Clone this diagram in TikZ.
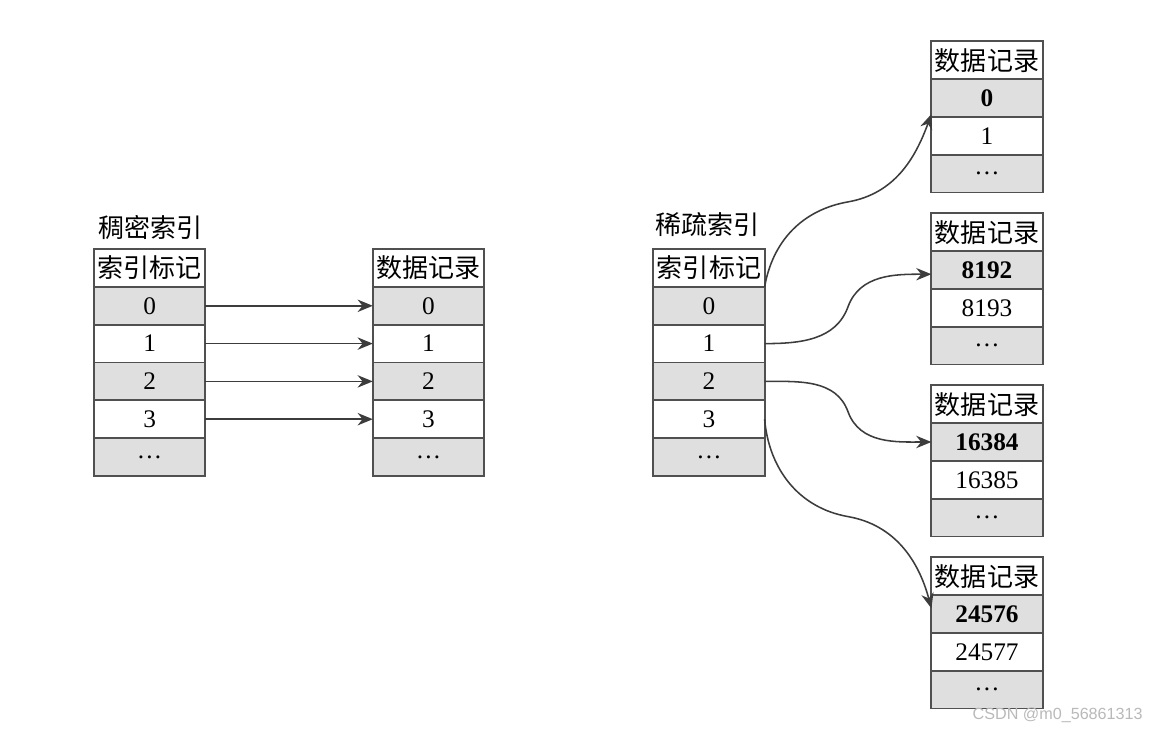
\documentclass[tikz,border=0pt]{standalone}
\usepackage{fontspec}
\setmainfont{Liberation Serif}
\newfontfamily\cjk{Noto Sans CJK SC}
\newfontfamily\wmfont{Liberation Sans}
\usepackage{tikz}
\usetikzlibrary{arrows.meta,calc}
\definecolor{cellgray}{HTML}{DFDFDF}
\definecolor{edgegray}{HTML}{505050}
\definecolor{linkgray}{HTML}{3C3C3C}

\begin{document}
\begin{tikzpicture}[
  every node/.style={font=\fontsize{18}{21}\selectfont},
  cell/.style={draw=edgegray, line width=1.3pt, minimum width=2.78cm, minimum height=0.945cm, inner sep=0pt, outer sep=0pt},
  lit/.style={cell, fill=cellgray},
  plain/.style={cell, fill=white},
  keyrow/.style={cell, fill=cellgray, font=\fontsize{18}{21}\selectfont\bfseries},
  head/.style={cell, fill=white, font=\cjk\fontsize{18.5}{21}\selectfont},
  title/.style={anchor=west, inner sep=0pt, font=\cjk\fontsize{18.5}{21}\selectfont},
  link/.style={-{Stealth[length=3.8mm,width=3.1mm]}, line width=1.1pt, linkgray}]
  \useasboundingbox (0,0) rectangle (29,18.35);

  % dense index
  \node[title] (dtitle) at (2.45,12.675) {稠密索引};
  \node[head] (dihead) at (3.74,11.65) {索引标记};
  \node[lit] (di0) at (3.74,10.705) {0};
  \node[plain] (di1) at (3.74,9.76) {1};
  \node[lit] (di2) at (3.74,8.815) {2};
  \node[plain] (di3) at (3.74,7.87) {3};
  \node[lit] (didots) at (3.74,6.925) {…};

  \node[head] (drhead) at (10.71,11.65) {数据记录};
  \node[lit] (dr0) at (10.71,10.705) {0};
  \node[plain] (dr1) at (10.71,9.76) {1};
  \node[lit] (dr2) at (10.71,8.815) {2};
  \node[plain] (dr3) at (10.71,7.87) {3};
  \node[lit] (drdots) at (10.71,6.925) {…};

  \draw[link] (di0) -- (dr0);
  \draw[link] (di1) -- (dr1);
  \draw[link] (di2) -- (dr2);
  \draw[link] (di3) -- (dr3);

  % sparse index
  \node[title] (stitle) at (16.375,12.725) {稀疏索引};
  \node[head] (sihead) at (17.725,11.65) {索引标记};
  \node[lit] (si0) at (17.725,10.705) {0};
  \node[plain] (si1) at (17.725,9.76) {1};
  \node[lit] (si2) at (17.725,8.815) {2};
  \node[plain] (si3) at (17.725,7.87) {3};
  \node[lit] (sidots) at (17.725,6.925) {…};

  \node[head] (pg1head) at (24.675,16.845) {数据记录};
  \node[keyrow] (pg1a) at (24.675,15.9) {0};
  \node[plain] (pg1b) at (24.675,14.955) {1};
  \node[lit] (pg1dots) at (24.675,14.01) {…};

  \node[head] (pg2head) at (24.675,12.545) {数据记录};
  \node[keyrow] (pg2a) at (24.675,11.6) {8192};
  \node[plain] (pg2b) at (24.675,10.655) {8193};
  \node[lit] (pg2dots) at (24.675,9.71) {…};

  \node[head] (pg3head) at (24.675,8.245) {数据记录};
  \node[keyrow] (pg3a) at (24.675,7.3) {16384};
  \node[plain] (pg3b) at (24.675,6.355) {16385};
  \node[lit] (pg3dots) at (24.675,5.41) {…};

  \node[head] (pg4head) at (24.675,3.945) {数据记录};
  \node[keyrow] (pg4a) at (24.675,3.0) {24576};
  \node[plain] (pg4b) at (24.675,2.055) {24577};
  \node[lit] (pg4dots) at (24.675,1.11) {…};

  \draw[link] (si0.north east) to[out=80,in=190] ($(si0.north east)!.5!(pg1a.south west)$) to[out=10,in=250] ([yshift=2pt]pg1a.south west);
  \draw[link] (si1.east) to[out=0,in=250] ($(si1.east)!.5!(pg2a.west)$) to[out=70,in=180] ([yshift=-3pt]pg2a.west);
  \draw[link] (si2.east) to[out=0,in=110] ($(si2.east)!.5!(pg3a.west)$) to[out=-70,in=180] (pg3a.west);
  \draw[link] (si3.east) to[out=-85,in=170] ($(si3.east)!.5!(pg4a.west)$) to[out=-10,in=105] ([yshift=4pt]pg4a.west);

  \node[anchor=east, inner sep=0pt, font=\wmfont\fontsize{11.5}{13}\selectfont, text=gray!55] (mark) at (28.575,0.475) {CSDN @m0\_56861313};
\end{tikzpicture}
\end{document}
